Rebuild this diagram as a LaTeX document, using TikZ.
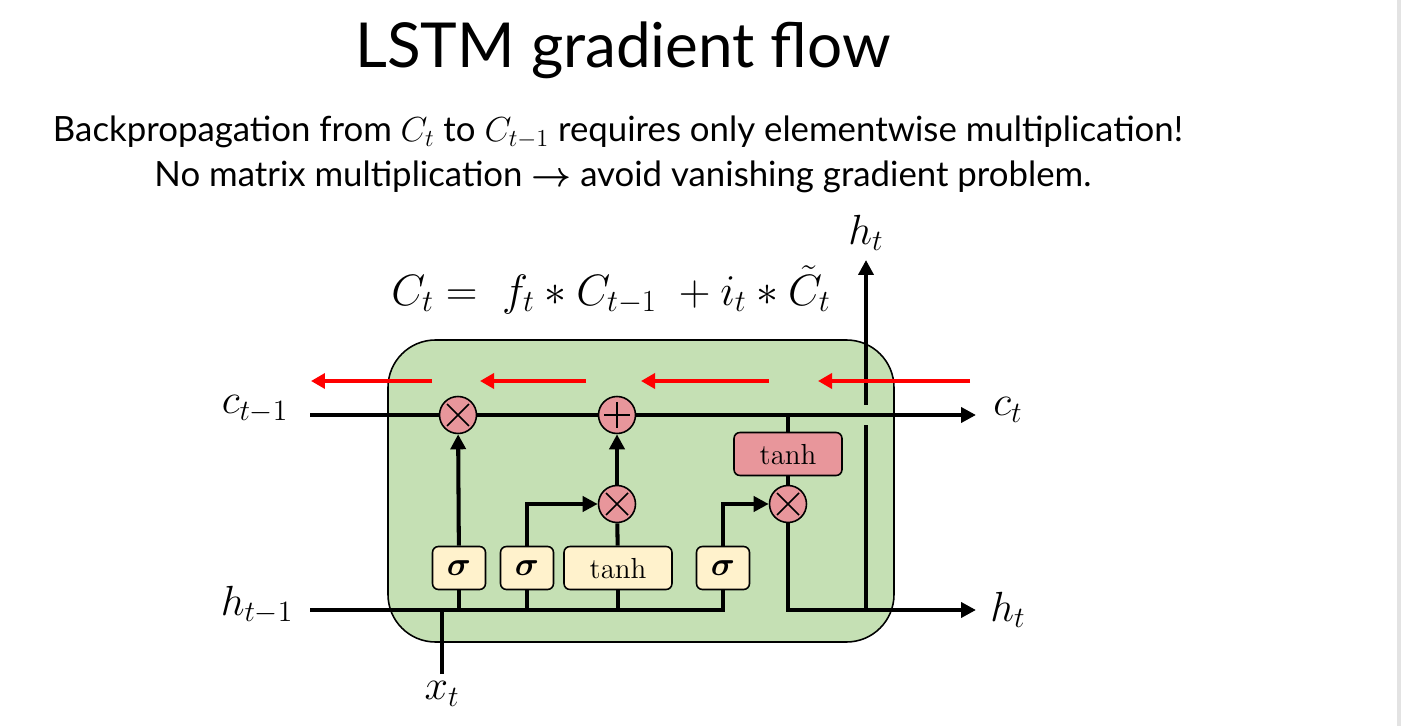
\RequirePackage{fix-cm}
\documentclass[tikz,border=0pt]{standalone}
\usepackage{amsmath,bm}
\usepackage[no-math]{fontspec}
\setmainfont{Lato}
\usetikzlibrary{arrows.meta,positioning}

\definecolor{cellgreen}{RGB}{197,224,180}
\definecolor{gatered}{RGB}{232,150,155}
\definecolor{gateyellow}{RGB}{255,242,204}

\tikzset{
  flow/.style={line width=2.3pt},
  flowarrow/.style={flow, -{Triangle[length=0.3cm,width=0.3cm]}},
  gradarrow/.style={line width=2.3pt, red, -{Triangle[length=0.28cm,width=0.3cm]}},
  op/.style={circle, draw, line width=0.9pt, fill=gatered, minimum size=0.74cm, inner sep=0pt},
  mulop/.style={op, path picture={
      \draw[line width=0.9pt] ([shift={(-0.22cm,-0.22cm)}]path picture bounding box.center) -- ++(0.44cm,0.44cm)
        ([shift={(-0.22cm,0.22cm)}]path picture bounding box.center) -- ++(0.44cm,-0.44cm);}},
  addop/.style={op, path picture={
      \draw[line width=0.9pt] ([xshift=-0.26cm]path picture bounding box.center) -- ++(0.52cm,0)
        ([yshift=-0.26cm]path picture bounding box.center) -- ++(0,0.52cm);}},
  gate/.style={draw, line width=0.9pt, rounded corners=0.12cm, fill=gateyellow,
    minimum height=0.86cm, minimum width=1.06cm, inner sep=0pt, font=\fontsize{16.5}{18}\selectfont},
  lbl/.style={font=\fontsize{24}{28}\selectfont}
}

\begin{document}
\begin{tikzpicture}[x=0.02cm, y=-0.02cm]
  \useasboundingbox (0,0) rectangle (1401,726);
  \fill[gray!22] (1397,0) rectangle (1401,726);

  % heading
  \node[font=\fontsize{35.3}{40}\selectfont] (title) at (623,50) {LSTM gradient flow};
  \node[font=\fontsize{19.8}{24}\selectfont] (line1) at (618,132)
    {Backpropagation from $C_t$ to $C_{t-1}$ requires only elementwise multiplication!};
  \node[font=\fontsize{19.8}{24}\selectfont] (line2) at (623,177)
    {No matrix multiplication $\bm{\rightarrow}$ avoid vanishing gradient problem.};
  \node[font=\fontsize{25}{30}\selectfont] (celleq) at (611,290)
    {$C_t =\; f_t * C_{t-1}\; + i_t * \tilde{C}_t$};

  % cell
  \draw[line width=0.9pt, fill=cellgreen, rounded corners=0.95cm] (388,340) rectangle (894,642);

  % inputs and outputs
  \node[lbl] (cprev) at (255,409) {$c_{t-1}$};
  \node[lbl] (hprev) at (257,605) {$h_{t-1}$};
  \node[lbl] (cnext) at (1008,410) {$c_t$};
  \node[lbl] (hnext) at (1008,610) {$h_t$};
  \node[lbl] (hup) at (866,233) {$h_t$};
  \node[lbl] (xt) at (442,694) {$x_t$};
  \coordinate (cin) at (310,415);
  \coordinate (cout) at (976,415);
  \coordinate (hin) at (310,610);
  \coordinate (hout) at (976,610);
  \coordinate (xbot) at (442,674);
  \coordinate (hsplit) at (866,610);
  \coordinate (gapbot) at (866,425);
  \coordinate (gaptop) at (866,405);
  \coordinate (htip) at (866,260);

  % gates
  \node[mulop] (mulf) at (458,415) {};
  \node[addop] (addc) at (617,415) {};
  \node[mulop] (muli) at (617,504) {};
  \node[mulop] (mulo) at (788,504) {};
  \node[gate] (sigf) at (459,568) {\fontsize{19}{20}\selectfont$\bm{\sigma}$};
  \node[gate] (sigi) at (527,568) {\fontsize{19}{20}\selectfont$\bm{\sigma}$};
  \node[gate, minimum width=2.16cm] (tanhc) at (618,568) {$\mathrm{tanh}$};
  \node[gate] (sigo) at (723,568) {\fontsize{19}{20}\selectfont$\bm{\sigma}$};
  \node[gate, fill=gatered, minimum width=2.16cm] (tanhh) at (788,454) {$\mathrm{tanh}$};

  % cell state
  \draw[flow] (cin) -- (mulf);
  \draw[flow] (mulf) -- (addc);
  \draw[flowarrow] (addc) -- (cout);
  \draw[flow] (tanhh) -- (tanhh |- cin);
  \draw[flow] (tanhh) -- (mulo);

  % hidden state
  \draw[flow] (hin) -- (sigo.south |- hin) -- (sigo.south);
  \draw[flow] (xbot) -- (xbot |- hin);
  \draw[flow] (sigf) -- (sigf |- hin);
  \draw[flow] (sigi) -- (sigi |- hin);
  \draw[flow] (tanhc) -- (tanhc |- hin);
  \draw[flowarrow] (sigf) -- (mulf);
  \draw[flowarrow] (sigi.north) |- (muli);
  \draw[flow] (tanhc) -- (muli);
  \draw[flowarrow] (muli) -- (addc);
  \draw[flowarrow] (sigo.north) |- (mulo);
  \draw[flowarrow] (mulo) |- (hout);
  \draw[flow] (hsplit) -- (gapbot);
  \draw[flowarrow] (gaptop) -- (htip);

  % gradient flow
  \foreach \a/\b in {970/818, 769/641, 586/480, 432/311}
    \draw[gradarrow] (\a,381) -- (\b,381);
\end{tikzpicture}
\end{document}
